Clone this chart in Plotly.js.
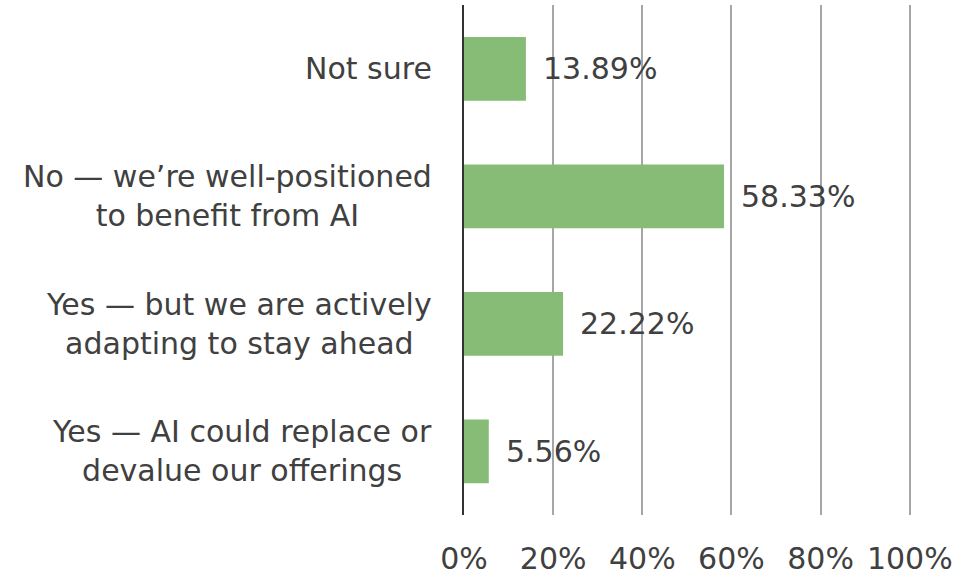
<!DOCTYPE html>
<html>
<head>
<meta charset="utf-8">
<script src="https://cdn.plot.ly/plotly-3.0.1.min.js"></script>
<style>html,body{margin:0;padding:0;background:#fff;}#chart{width:958px;height:579px;}</style>
</head>
<body>
<div id="chart"></div>
<script>
const categories = [
  "Not sure",
  "No — we’re well-positioned<br>to benefit from AI",
  "Yes — but we are actively<br>adapting to stay ahead",
  "Yes — AI could replace or<br>devalue our offerings"
];
const values = [13.89, 58.33, 22.22, 5.56];
const valueLabels = ["13.89%", "58.33%", "22.22%", "5.56%"];
const tickVals = [0, 20, 40, 60, 80, 100];
const tickText = ["0%", "20%", "40%", "60%", "80%", "100%"];

const FONT = "DejaVu Sans, Verdana, sans-serif";
const TXT = "#404040";

const trace = {
  type: "bar",
  orientation: "h",
  x: values,
  y: categories,
  marker: {color: "#86bc76"},
  hoverinfo: "skip"
};

const annotations = [];
categories.forEach((c, i) => {
  annotations.push({
    x: 0, xref: "paper", y: c, yref: "y",
    text: c, showarrow: false, xanchor: "right", align: "center",
    xshift: -30, font: {family: FONT, size: 30, color: TXT}
  });
  annotations.push({
    x: values[i], xref: "x", y: c, yref: "y",
    text: valueLabels[i], showarrow: false, xanchor: "left",
    xshift: 15, font: {family: FONT, size: 30, color: TXT}
  });
});

const layout = {
  width: 958, height: 579,
  margin: {l: 464, r: 46, t: 5, b: 64},
  paper_bgcolor: "#fff", plot_bgcolor: "#fff",
  showlegend: false,
  bargap: 0.5,
  font: {family: FONT, size: 30, color: TXT},
  xaxis: {
    range: [0, 100.5],
    tickvals: tickVals, ticktext: tickText,
    showgrid: true, gridcolor: "#a6a6a6", gridwidth: 2,
    zeroline: false, showline: false, ticks: "",
    ticklabelstandoff: 23,
    tickfont: {family: FONT, size: 30, color: TXT},
    automargin: false, fixedrange: true
  },
  yaxis: {
    type: "category",
    range: [3.5, -0.5],
    showticklabels: false, ticks: "",
    showgrid: false, zeroline: false,
    showline: true, linecolor: "#333333", linewidth: 2,
    automargin: false, fixedrange: true
  },
  annotations: annotations
};

Plotly.newPlot("chart", [trace], layout, {displayModeBar: false, staticPlot: true});
</script>
</body>
</html>
